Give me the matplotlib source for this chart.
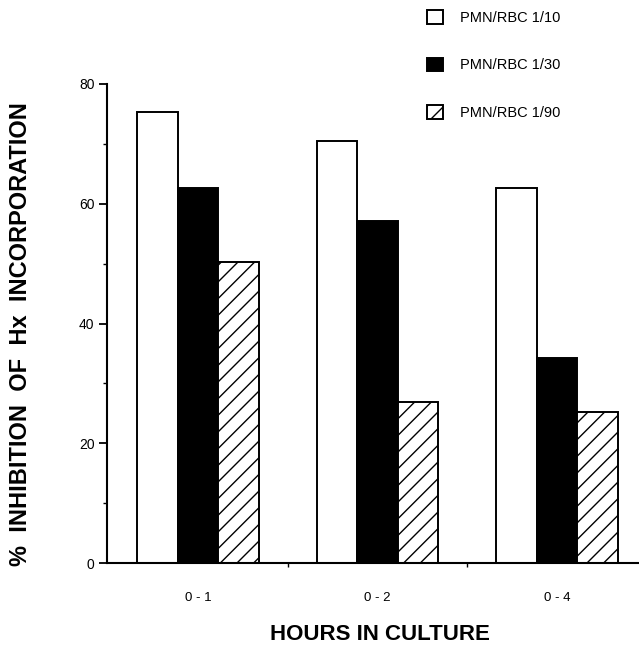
import matplotlib
matplotlib.use("Agg")
import matplotlib.pyplot as plt
import numpy as np

plt.rcParams['font.family'] = ['Liberation Sans', 'DejaVu Sans']
plt.rcParams['hatch.linewidth'] = 1.0

# Data
hours = ["0 - 1", "0 - 2", "0 - 4"]
ratio_labels = ["PMN/RBC 1/10", "PMN/RBC 1/30", "PMN/RBC 1/90"]
inhib_1_10 = [75.3, 70.4, 62.7]
inhib_1_30 = [62.6, 57.1, 34.2]
inhib_1_90 = [50.2, 26.9, 25.2]

fig = plt.figure(figsize=(6.39, 6.47), dpi=100)
ax = fig.add_axes([0.1675, 0.1298, 0.8325, 0.7404])

x = np.arange(len(hours))
w = 0.226
ax.bar(x - w, inhib_1_10, w, color="white", edgecolor="black", linewidth=1.4,
       label=ratio_labels[0])
ax.bar(x, inhib_1_30, w, color="black", edgecolor="black", linewidth=1.4,
       label=ratio_labels[1])
ax.bar(x + w, inhib_1_90, w, color="white", edgecolor="black", linewidth=1.4,
       hatch="//", label=ratio_labels[2])

ax.set_xlim(-0.507, 2.457)
ax.set_ylim(0, 80)

# axes style
for side in ["top", "right"]:
    ax.spines[side].set_visible(False)
for side in ["left", "bottom"]:
    ax.spines[side].set_linewidth(1.5)

ax.set_yticks([0, 20, 40, 60, 80])
ax.set_yticks([10, 30, 50, 70], minor=True)
ax.tick_params(axis="y", which="major", length=6, width=1.3, labelsize=10, pad=3)
ax.tick_params(axis="y", which="minor", length=3, width=1.0)

ax.set_xticks(x)
ax.set_xticklabels(hours)
ax.set_xticks([0.5, 1.5], minor=True)
ax.tick_params(axis="x", which="major", length=0, labelsize=9.5, pad=21)
ax.tick_params(axis="x", which="minor", length=3, width=1.0)

fig.text(380 / 639, 1 - 634 / 647, "HOURS IN CULTURE", ha="center", va="center",
         fontsize=16, fontweight="bold")
fig.text(21 / 639, 1 - 334 / 647, "%  INHIBITION  OF  Hx  INCORPORATION",
         rotation=90, ha="center", va="center", fontsize=17, fontweight="bold")

fig.legend(loc="upper left", bbox_to_anchor=(427 / 639, 1 - 10 / 647),
           frameon=False, fontsize=10.5, handlelength=1.1, handleheight=1.05,
           labelspacing=2.26, handletextpad=1.16, borderaxespad=0, borderpad=0)

plt.savefig("out.png", dpi=100)
